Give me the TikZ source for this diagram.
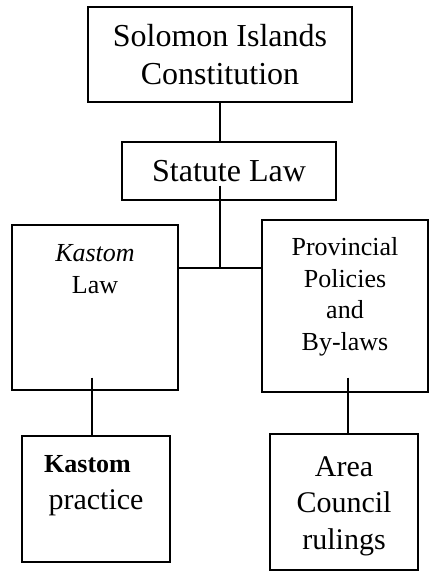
\documentclass[tikz,border=0pt]{standalone}
\usepackage{fontspec}
\setmainfont{Liberation Serif}
\usetikzlibrary{positioning, calc}
\tikzset{
  law box/.style={
    draw=black,
    line width=1.3pt,
    inner sep=0pt,
    align=center
  },
  law text/.style={
    align=center,
    inner sep=0pt,
    anchor=north
  },
  link/.style={draw=black, line width=1.3pt}
}

\begin{document}
\begin{tikzpicture}[x=1pt, y=-1pt]
  \useasboundingbox (0,0) rectangle (430,574);

  % top of the hierarchy
  \node[law box, minimum width=264pt, minimum height=95pt, font=\fontsize{32}{38}\selectfont] (const) at (220,54.5) {Solomon Islands\\Constitution};
  \node[law box, minimum width=214pt, minimum height=58pt, font=\fontsize{32}{38}\selectfont] (stat) at (229,171) {Statute Law};

  % second level
  \node[law box, minimum width=166pt, minimum height=165pt] (kl) at (95,307.5) {};
  \node[law box, minimum width=166pt, minimum height=172pt] (prov) at (345,306) {};
  \node[law text, font=\fontsize{26}{32}\selectfont] (kltxt) at ($(kl.north)+(0,20)$) {\textit{Kastom}\\Law};
  \node[law text, font=\fontsize{26}{31.5}\selectfont] (provtxt) at ($(prov.north)+(0,18)$) {Provincial\\Policies\\and\\By-laws};

  % third level
  \node[law box, minimum width=148pt, minimum height=126pt] (kp) at (96,499) {};
  \node[law box, minimum width=148pt, minimum height=136pt] (acr) at (344,502) {};
  \node[law text, font=\fontsize{26}{37}\selectfont] (kptxt) at ($(kp.north)+(0,20)$) {\textbf{Kastom}\hspace*{17pt}\\{\fontsize{30}{37}\selectfont practice}};
  \node[law text, font=\fontsize{30}{36.5}\selectfont] (acrtxt) at ($(acr.north)+(0,23)$) {Area\\Council\\rulings};

  % connectors
  \coordinate (joint) at (220,268);
  \draw[link] (const.south) -- (const.south |- stat.north);
  \draw[link] ($(const.south |- stat.south)+(0,-15)$) -- (joint);
  \draw[link] (joint -| kl.east) -- (joint -| prov.west);
  \draw[link] ($(kl.south)+(-3,-13)$) coordinate (kltail) -- (kltail |- kp.north);
  \draw[link] ($(prov.south)+(3,-15)$) coordinate (provtail) -- (provtail |- acr.north);
\end{tikzpicture}
\end{document}
